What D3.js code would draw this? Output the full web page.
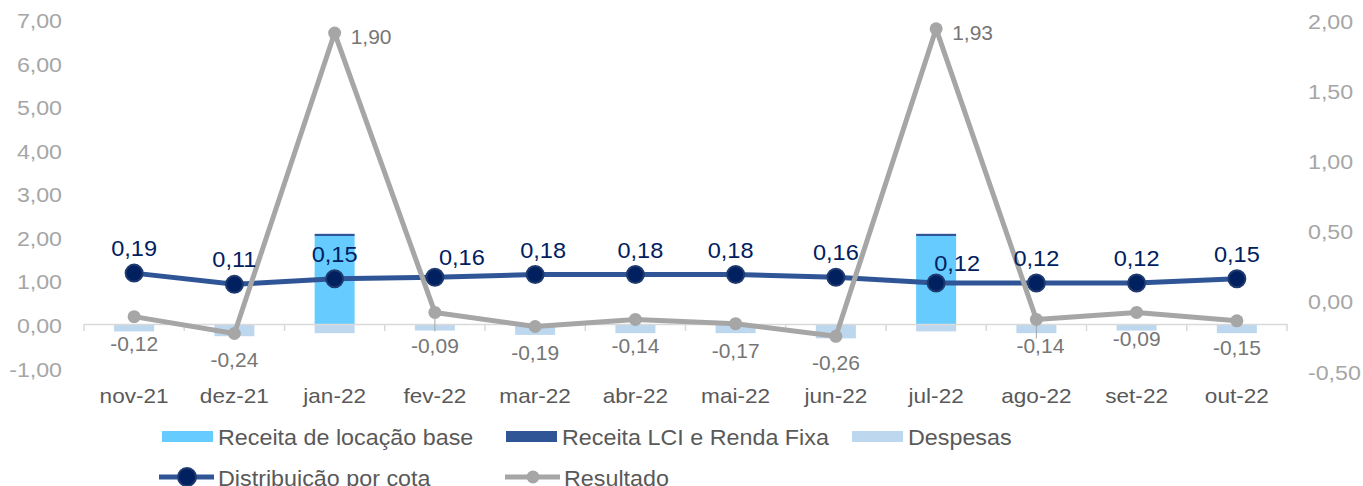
<!DOCTYPE html>
<html>
<head>
<meta charset="utf-8">
<script src="https://cdn.jsdelivr.net/npm/d3@7"></script>
<style>
  body { margin: 0; background: #fff; }
  svg { display: block; font-family: 'Liberation Sans', Arial, sans-serif; }
</style>
</head>
<body>
<svg id="chart" width="1363" height="486"></svg>
<script>
const months = ['nov-21', 'dez-21', 'jan-22', 'fev-22', 'mar-22', 'abr-22', 'mai-22', 'jun-22', 'jul-22', 'ago-22', 'set-22', 'out-22']
const receitaBase = [0, 0, 2.02, 0, 0, 0, 0, 0, 2.02, 0, 0, 0]
const receitaLCI = [0, 0, 0.05, 0, 0, 0, 0, 0, 0.05, 0, 0, 0]
const despesas = [-0.17, -0.28, -0.21, -0.15, -0.25, -0.21, -0.21, -0.33, -0.17, -0.21, -0.15, -0.21]
const distribuicao = [0.19, 0.11, 0.15, 0.16, 0.18, 0.18, 0.18, 0.16, 0.12, 0.12, 0.12, 0.15]
const resultado = [-0.12, -0.24, 1.90, -0.09, -0.19, -0.14, -0.17, -0.26, 1.93, -0.14, -0.09, -0.15]
const leftTicks = [-1, 0, 1, 2, 3, 4, 5, 6, 7]
const rightTicks = [-0.5, 0, 0.5, 1, 1.5, 2]

const locale = d3.formatLocale({ decimal: ',', thousands: '.', grouping: [3], currency: ['R$', ''], minus: '-' })
const fmt = locale.format('.2f')

const svg = d3.select('#chart')

const x = d3.scaleBand().domain(months).range([84, 1287])
const yL = d3.scaleLinear().domain([-1, 7]).range([367.6, 19])
const yR = d3.scaleLinear().domain([-0.5, 2]).range([370, 19])
const cx = (m) => x(m) + x.bandwidth() / 2
const barW = 40

// text helper: horizontally stretched text
function stretch(sel, sx) {
  sel.attr('transform', function() {
    const t = d3.select(this)
    return `translate(${t.attr('data-x')},${t.attr('data-y')}) scale(${sx},1)`
  })
}

// left axis
const gL = svg.append('g').attr('transform', 'translate(62,0)')
  .call(d3.axisLeft(yL).tickValues(leftTicks).tickFormat(fmt).tickSize(0).tickPadding(0))
gL.select('.domain').remove()
gL.selectAll('text')
  .attr('x', 0).attr('dy', null).attr('y', 8.5)
  .attr('transform', 'scale(1.16,1)')
  .style('font-size', '20px').style('font-family', 'Liberation Sans, Arial, sans-serif')
  .attr('fill', '#a6a6a6')

// right axis
const gR = svg.append('g').attr('transform', 'translate(1308,0)')
  .call(d3.axisRight(yR).tickValues(rightTicks).tickFormat(fmt).tickSize(0).tickPadding(0))
gR.select('.domain').remove()
gR.selectAll('text')
  .attr('x', 0).attr('dy', null).attr('y', 9)
  .attr('transform', 'scale(1.16,1)')
  .style('font-size', '20px').style('font-family', 'Liberation Sans, Arial, sans-serif')
  .attr('fill', '#a6a6a6')

// bars
const bars = svg.append('g')
bars.selectAll('rect.desp')
  .data(months)
  .join('rect')
  .attr('class', 'desp')
  .attr('x', (m) => cx(m) - barW / 2)
  .attr('width', barW)
  .attr('y', yL(0))
  .attr('height', (m, i) => yL(despesas[i]) - yL(0))
  .attr('fill', '#bdd7ee')

bars.selectAll('rect.base')
  .data(months)
  .join('rect')
  .attr('class', 'base')
  .attr('x', (m) => cx(m) - barW / 2)
  .attr('width', barW)
  .attr('y', (m, i) => yL(receitaBase[i]))
  .attr('height', (m, i) => yL(0) - yL(receitaBase[i]))
  .attr('fill', '#66ccff')

bars.selectAll('rect.lci')
  .data(months)
  .join('rect')
  .attr('class', 'lci')
  .attr('x', (m) => cx(m) - barW / 2)
  .attr('width', barW)
  .attr('y', (m, i) => yL(receitaBase[i] + receitaLCI[i]))
  .attr('height', (m, i) => yL(receitaBase[i]) - yL(receitaBase[i] + receitaLCI[i]))
  .attr('fill', '#2f5597')

// category axis line + ticks
const gx = svg.append('g').attr('transform', `translate(0,${yL(0)})`)
  .call(d3.axisBottom(x).tickSize(0).tickFormat(''))
gx.selectAll('.tick').remove()
gx.select('.domain').attr('stroke', '#d9d9d9').attr('stroke-width', 1.5)
gx.selectAll('line.sep')
  .data(months.map((m) => x(m)).concat([x.range()[1]]))
  .join('line')
  .attr('class', 'sep')
  .attr('x1', (d) => d).attr('x2', (d) => d)
  .attr('y1', 0).attr('y2', 7)
  .attr('stroke', '#d9d9d9').attr('stroke-width', 1.5)

svg.append('g').selectAll('text')
  .data(months)
  .join('text')
  .attr('text-anchor', 'middle')
  .attr('transform', (m) => `translate(${cx(m)},403) scale(1.13,1)`)
  .style('font-size', '20px')
  .attr('fill', '#595959')
  .text((m) => m)

// Distribuição por cota
const distLine = d3.line().x((d, i) => cx(months[i])).y((d) => yR(d))
svg.append('path')
  .datum(distribuicao)
  .attr('d', distLine)
  .attr('fill', 'none')
  .attr('stroke', '#2f5597')
  .attr('stroke-width', 5)
svg.append('g').selectAll('circle')
  .data(distribuicao)
  .join('circle')
  .attr('cx', (d, i) => cx(months[i]))
  .attr('cy', (d) => yR(d))
  .attr('r', 8.5)
  .attr('fill', '#002060')
  .attr('stroke', '#1f3a6e')
  .attr('stroke-width', 2)

// Resultado
const resLine = d3.line().x((d, i) => cx(months[i])).y((d) => yR(d))
svg.append('path')
  .datum(resultado)
  .attr('d', resLine)
  .attr('fill', 'none')
  .attr('stroke', '#a6a6a6')
  .attr('stroke-width', 5)
  .attr('stroke-linejoin', 'round')

// leader lines for moved labels
svg.append('g').selectAll('line')
  .data(['fev-22', 'ago-22'])
  .join('line')
  .attr('x1', (m) => cx(m)).attr('x2', (m) => cx(m))
  .attr('y1', (m) => yR(resultado[months.indexOf(m)]))
  .attr('y2', (m) => yR(resultado[months.indexOf(m)]) + 19)
  .attr('stroke', '#a6a6a6').attr('stroke-width', 1)

svg.append('g').selectAll('circle')
  .data(resultado)
  .join('circle')
  .attr('cx', (d, i) => cx(months[i]))
  .attr('cy', (d) => yR(d))
  .attr('r', 6.5)
  .attr('fill', '#a6a6a6')

// data labels
const distNudge = { 'fev-22': [27, 5], 'jul-22': [21, 5], 'mar-22': [8, 0], 'abr-22': [5, 0], 'mai-22': [-5, 0] }
svg.append('g').selectAll('text')
  .data(distribuicao)
  .join('text')
  .attr('text-anchor', 'middle')
  .attr('transform', (d, i) => {
    const n = distNudge[months[i]] || [0, 0]
    return `translate(${cx(months[i]) + n[0]},${yR(d) - 17 + n[1]}) scale(1.07,1)`
  })
  .style('font-size', '22px')
  .attr('fill', '#002060')
  .text((d) => fmt(d))

const resNudge = { 'fev-22': [0, 7], 'ago-22': [4, 0] }
svg.append('g').selectAll('text')
  .data(resultado)
  .join('text')
  .attr('text-anchor', (d) => d > 1 ? 'start' : 'middle')
  .attr('transform', (d, i) => {
    const n = resNudge[months[i]] || [0, 0]
    const px = d > 1 ? cx(months[i]) + 16 : cx(months[i]) + n[0]
    const py = d > 1 ? yR(d) + 11 : yR(d) + 34 + n[1]
    return `translate(${px},${py}) scale(1.05,1)`
  })
  .style('font-size', '20px')
  .attr('fill', '#767676')
  .text((d) => fmt(d))

// legend
const legend = svg.append('g')
const legBars = [
  { label: 'Receita de locação base', color: '#66ccff', x: 162 },
  { label: 'Receita LCI e Renda Fixa', color: '#2f5597', x: 506 },
  { label: 'Despesas', color: '#bdd7ee', x: 852 }
]
legBars.forEach((d) => {
  legend.append('rect').attr('x', d.x).attr('y', 431).attr('width', 51).attr('height', 11).attr('fill', d.color)
  legend.append('text')
    .attr('transform', `translate(${d.x + 56},445) scale(1.06,1)`)
    .style('font-size', '22px').attr('fill', '#595959').text(d.label)
})
const legLines = [
  { label: 'Distribuição por cota', color: '#2f5597', x: 159, r: 9, fill: '#002060', stroke: '#1f3a6e' },
  { label: 'Resultado', color: '#a6a6a6', x: 505, r: 6.5, fill: '#a6a6a6', stroke: 'none' }
]
legLines.forEach((d) => {
  legend.append('line').attr('x1', d.x).attr('x2', d.x + 55).attr('y1', 477).attr('y2', 477)
    .attr('stroke', d.color).attr('stroke-width', 5)
  legend.append('circle').attr('cx', d.x + 28).attr('cy', 477).attr('r', d.r)
    .attr('fill', d.fill).attr('stroke', d.stroke).attr('stroke-width', 2)
  legend.append('text')
    .attr('transform', `translate(${d.x + 59},486) scale(1.06,1)`)
    .style('font-size', '22px').attr('fill', '#595959').text(d.label)
})
</script>
</body>
</html>
